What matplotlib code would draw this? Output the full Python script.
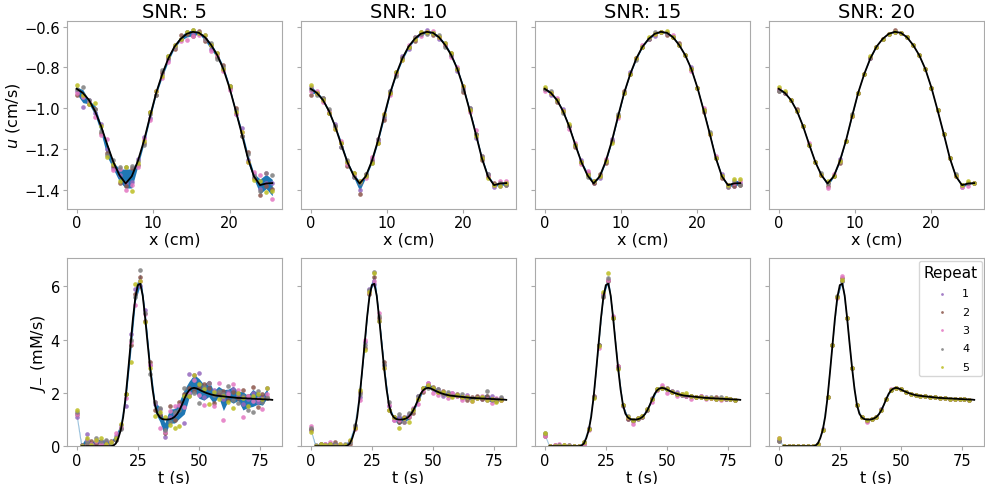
import numpy as np
import matplotlib
matplotlib.use("Agg")
import matplotlib.pyplot as plt

snr_levels = [5, 10, 15, 20]
repeat_labels = ["1", "2", "3", "4", "5"]
repeat_colors = ["#9467bd", "#8c564b", "#e377c2", "#7f7f7f", "#bcbd22"]

# top row: velocity u(x), sampled every 0.8 cm
x_cm = np.round(np.arange(33) * 0.8, 1)
u_line = [-0.905, -0.925, -0.960, -1.015, -1.090, -1.180, -1.265, -1.330, -1.370,
          -1.335, -1.260, -1.160, -1.040, -0.925, -0.832, -0.755, -0.698, -0.660,
          -0.635, -0.625, -0.630, -0.652, -0.690, -0.740, -0.808, -0.900, -1.010,
          -1.125, -1.245, -1.335, -1.378, -1.370, -1.368]

# deviation of each repeat from the line, in 0.01 cm/s
u_dev = {
    5: [[-1, -7, 0, -1, 1, -2, -3, 0, 0, -3, 1, 2, -1, 1, 0, -1, 1, 0, 1, -1, 0, 1, -2, 1, 0, 1, -2, 3, -1, 1, -2, 0, 0],
        [-3, -1, -2, 1, -3, -4, -2, -4, -1, 4, -2, -1, 2, -1, 1, 0, -1, 2, 0, -2, 1, -2, 0, -1, 2, 0, 1, -1, 3, -1, -5, -1, -3],
        [-2, -2, -1, -3, -4, 3, -4, 3, -3, -4, -3, 1, -2, 1, -2, -2, 0, -1, -3, -2, -1, -1, -3, 0, -1, -1, -2, 1, -2, 2, 5, 5, -8],
        [0, 3, 0, 1, -2, -5, 1, 4, 8, 5, 0, -2, 1, -1, 2, 1, 0, 0, 1, 1, 0, -1, 1, -2, 1, 1, 0, -1, 2, 0, -3, 5, 4],
        [2, -1, -2, 4, 0, -6, -1, -3, 8, -7, -1, 0, 2, 1, -1, 1, 1, 0, 1, 1, 0, 1, 0, 1, 0, 1, -1, 1, -2, -2, 2, -4, -4]],
    10: [[1, 0, 0, -1, 1, -1, 0, -1, -3, 0, 1, 0, -1, 1, 0, 1, -1, 0, 0, 1, 0, -1, 1, 0, -1, 0, 1, -2, 0, 1, -1, -1, 0],
         [-3, 0, 1, -1, 0, 1, -2, 1, -5, 1, 0, -1, -2, 0, 1, 0, 0, -1, 1, 0, -1, 0, 0, 1, 0, -2, 0, 0, -1, 0, 1, 0, -1],
         [-1, 1, -1, 0, -1, 2, -1, 0, 1, -1, 2, 1, 1, -1, 0, -1, 1, 1, -1, 0, 1, 0, 0, -1, 1, 1, -1, 2, 1, 0, 0, 1, 1],
         [0, -1, 1, 1, 0, -1, 1, -1, 0, 1, -1, 1, 0, 1, -1, 0, 0, 1, 0, -1, 0, 1, -1, 0, 0, -1, 1, 0, 1, 1, 0, 0, -1],
         [2, 0, 0, -1, -1, 1, 0, 1, 1, 0, -1, -1, 1, 0, 1, -1, 0, 0, 1, 0, 0, 0, 1, 1, 0, 1, 0, -1, 0, -1, 0, -1, 0]],
    15: [[0, -1, 0, 1, 0, 0, 1, 0, 0, -1, 0, 1, 0, 0, 1, 0, 0, 0, -1, 0, 0, 0, 0, 0, 1, 0, 0, 0, 0, 1, 0, -1, 0],
         [0, 0, -1, 0, 0, -1, 0, 1, 0, 1, -1, 0, 0, 1, 0, 0, 0, 0, 0, 0, -1, 0, 1, 0, 0, 0, -1, 0, 0, -1, 0, -1, -1],
         [-1, 0, 1, 0, -1, 1, -1, 2, 1, 0, 1, 0, -1, 0, 0, 0, 1, 0, 0, 0, 0, 1, 0, 0, -1, 0, 1, 0, 1, 0, -1, 0, 1],
         [0, 1, 0, -1, 0, 0, 0, -1, 1, 0, 0, 0, 1, 0, 0, -1, 0, 0, 1, 0, 0, 0, 0, 0, 0, 0, 0, 1, 0, 0, -1, 1, -1],
         [1, 0, 0, 0, 1, 0, 0, 0, 1, 0, 0, -1, 0, 0, 0, 0, 0, 1, 0, 0, 1, 0, 0, 0, 0, 0, 0, 0, 0, 0, 0, 2, 2]],
    20: [[0, 0, 0, 0, 0, 0, 0, 0, 0, 0, 1, 0, 0, 0, 0, 0, 0, 0, 0, 0, 0, 0, 0, 0, 0, 0, 0, 0, 0, 0, -1, 0, 0],
         [-1, 0, 0, 1, 0, 0, 0, 0, -1, 0, -1, 0, 0, 0, 0, 0, 0, 0, 0, 1, 0, 0, 0, 0, 0, 0, 0, 0, 0, 0, 0, 0, 0],
         [0, 0, 0, 0, 0, 1, 0, 0, -2, 1, 0, 0, 0, 0, 0, 0, 0, 0, 0, 0, 0, 0, 0, 0, 0, 0, 0, 0, 0, 0, -1, -1, 0],
         [-1, 0, 0, 0, 0, 0, 0, 1, 0, 0, 0, 0, 1, 0, 0, 0, 0, 0, 0, 0, 0, 0, 0, 0, 0, 0, 0, 0, 0, 1, 0, 0, 0],
         [1, 1, 0, 0, 0, 0, 0, 0, 1, 0, 0, 0, 0, 0, 0, 1, 0, 0, 0, 0, 0, 0, 0, 0, 0, 0, 0, 0, 0, 0, 0, 1, 0]],
}

# bottom row: flux J_-(t); line on a 1 s grid, samples every 2 s
t_line = np.arange(2, 81)
j_line = [0] * 13 + [
    0.02, 0.10, 0.30, 0.60, 1.10, 1.85, 2.80, 3.80, 4.80, 5.60, 6.05, 6.10, 5.65, 4.80,
    3.85, 2.95, 2.15, 1.55, 1.22, 1.08, 1.02, 1.00, 1.00, 1.01, 1.04, 1.10, 1.20, 1.35,
    1.55, 1.77, 1.97, 2.10, 2.17, 2.19, 2.17, 2.13, 2.08, 2.04, 2.00, 1.97, 1.94, 1.92,
    1.90, 1.89, 1.88, 1.87, 1.86, 1.85, 1.84, 1.83, 1.82, 1.81, 1.81, 1.80, 1.80, 1.79,
    1.79, 1.78, 1.78, 1.77, 1.77, 1.76, 1.76, 1.75, 1.75, 1.74]
t_s = np.arange(0, 80, 2)

# deviation of each repeat from the line, in 0.1 mM/s
j_dev = {
    5: [[11, 0, 4.5, 1, 1, 1.5, 2, 0.5, 3, 2, -3.5, 4, 3, -1, 3, 1, 0.5, 3, -6.5, 1, 1, 2, -9, 6, 5, 6, -2, 4, 2, 1, -1, 2, 3, 1, -2, 0, 2, -1, 1, 4.5],
        [12, 0.5, 1, 2, 1, 0.5, 1, 2, 1.5, 1, 1, 0, 1, 2.5, -1, 2, -2, 1, -5, 5, -1, 3, 2, 1, -1, 1, 3, 2, -3, 1, 2, -1, 2, 0, 3, 1, 4.5, -3, 2, 1],
        [12, 0, 2.5, 1, 2, 1, 0.5, 1.5, 4, 1, -0.5, 1, -3, 1, 1.5, 1, 1, -4, -4.5, 3, 4, 2, -3, -1, 3, -2, -5, 4, -4, 5, -9, 1, 5, 3, -7, 1, -1, 0, -3.5, 2],
        [13, 0.5, 1.5, 0.5, 3, 2, 2.5, 1, 1.5, 0.5, 1, 2, 0, 5, 2, -2.5, 1, 3.5, -4, -1, 2, 0, 4, -2, -2, -5, 2, 4, 0, 2, 1, 4, -1, -2, 1, -4.5, -5, 3, -1, 0.5],
        [13.5, 0, 3, 0.5, 2.5, 3, 1, 1.5, 2, 2.5, 1, -6.5, 5, 1, -1.5, 0, -4, 2, 1, -2, -4, -6, 1, -2, 5, 2, 1, -4, 1, -1, 0, -2, -4, 2, 0, -3, 1, 2, 0, 4.5]],
    10: [[6, 0, 0.5, 1, 0.5, 1, 0.5, 0, 1, 1.5, 0, 1, 3, 0, -1, 1, -0.5, -1, 1, 0.5, 1, 0, 1, 1, 2, 0, 1, -1, 0.5, 1, 0, -0.5, 1, 0, 0.5, 0, -0.5, 1, 0, 0.5],
         [6.5, 0, 1, 0.5, 1, 1.5, 0.5, 0.5, 0, 1, 2, -1, 1, 2.5, 0, 2, -2, 0, -1, 1, 0, -1, 0, -0.5, 1, 1, 0, 1, 0, 0.5, 1, 0, -1, 0.5, 1, 0, 1, 0, -0.5, 0],
         [7.5, 0, 0.5, 1, 1.5, 0.5, 1, 0.5, 1, 0.5, -1, 2, 2, 1, 2, 0, 0, -1, 0, -1, 0.5, 1, -2, 0, 2, -1.5, -1, 0, -1, 1, 0, -1, 0.5, -1, 0, 1, 0, -1.5, 0.5, 0],
         [7, 0.5, 1, 0.5, 1, 1, 0, 1, 0.5, 2, 1, 0, 2.5, 4.5, 1, 1, 1, 0, 2, -1, 1.5, 0.5, 1, 1, 0, 0.5, 1, 0, 1, 0, 0.5, 1, 0, 0, 0, 0.5, 3, -0.5, 0, 1],
         [5.5, 0, 1, 0.5, 1, 0, 1, 0.5, 1.5, 1, 2.5, -2, 2, 4, -1, 0, -2, 0, -3, 0.5, -2, 0, 0, 1, 1, 0.5, 0, 0.5, 0, -0.5, 0.5, 0, 0, -1, 0, 0.5, -0.5, 0, -1, 0]],
    15: [[4.5, 0, 0, 0.5, 0, 0, 0, 0, 0.5, 1, 0, 0, 1, 1.5, 0.5, 0, -0.5, -0.5, 0, 0.5, 0, 0.5, 0.5, 0, 0.5, 0, 0, 0.5, 0, 0, 0, 0, 0, 0.5, 0, 0, 0, 0.5, 0, 0],
         [4, 0, 0.5, 0, 0.5, 0, 0, 0, 0, 0.5, 0.5, 0, 0, 1, 0, 0.5, 0, -0.5, -0.5, 0.5, 0, 0, 0, 0.5, 0, 0.5, 0, 0, 0.5, 0, 0, 0, 0.5, 0, 0, 0.5, 0, 0, 0, 0],
         [4, 0, 0.5, 1, 0, 0.5, 0, 0, 0, 0, 0, -1, 1, 1.5, 1, 0.5, 0, 0, -1.5, 0, 0.5, 0, -1, 0, 1, -1.5, 0.5, -1, 0, 0, -1, 0, 0.5, -0.5, 0, 0, -0.5, 0, 0, 0],
         [5, 0, 0, 0.5, 0, 0.5, 0, 0, 0.5, 0.5, 0, 0, 0.5, 2, 0, 0, 0, 0.5, 0, 0, 0.5, 0, 0, 0.5, 0, 0, 0.5, 0, 0, 0.5, 0, 0, 0, 0, 0.5, 0, 0.5, 0, 0, 0],
         [5, 0, 0, 0, 0.5, 0, 0, 0, 0.5, 0.5, -0.5, -0.5, 2, 4, 0, -0.5, 0, 0, 0, 0.5, 0.5, 0.5, 0, 0.5, 0, 0, 0, 0, 0.5, 1, 0, 0, 0, 0, 0, 0, 0, 0.5, 0, 0]],
    20: [[2.5, 0, 0, 0, 0, 0, 0, 0, 0, 0.5, 0, 0, 0, 1, 0, 0, 0, 0, 0, 0, 0, 0.5, 0, 0, 0, 0, 0, 0, 0, 0, 0, 0, 0, 0, 0, 0, 0, 0, 0, 0],
         [2, 0, 0, 0, 0, 0, 0, 0, 0, 0, 0, 0, 0, 2, 0, 0, 0, 0, -0.5, 0, 0, 0, 0, 0, 0, 0, 0, 0, 0, 0, 0, 0, 0, 0, 0, 0, 0, 0, 0, 0],
         [3, 0, 0, 0, 0, 0, 0, 0, 0, 0, 0, 0, -0.5, 3, 0, 0, 0, 0, -1, 0, 0, 0, 0, 0.5, 0, 0, 0, 0, 0, 0, 0, 0, 0, 0, 0, 0, 0, 0, 0, 0],
         [2, 0, 0, 0, 0, 0, 0, 0, 0, 0, 0, 0, 0.5, 1, 0, 0, 0, 0, 0, 0, 0, 0, 0, 0, 0, 0, 0, 0, 0, 0, 0, 0, 0, 0, 0, 0, 0, 0, 0, 0],
         [3, 0, 0, 0, 0, 0, 0, 0, 0, 0, 0, 0, 0, 1.5, 0, 0, 0, 0, 0, 0, 0, 0, 0, 0, 0, 0, 0, 0, 0, 0, 0, 0, 0, 0, 0, 0, 0, 0, 0, 0]],
}

band_color = "#1f77b4"
spine_color = "#aaaaaa"


def draw_panel(ax, x, base, devs, unit, x_line, y_line, zero_start=False):
    vals = np.asarray(base) + np.asarray(devs, dtype=float) * unit
    mean = vals.mean(axis=0)
    half = vals.std(axis=0)
    if zero_start:
        half[0] = 0.0
    # thin mean trace shows through where the band collapses
    ax.plot(x, mean, color=band_color, alpha=0.4, lw=0.8, zorder=1)
    ax.fill_between(x, mean - half, mean + half, color=band_color,
                    lw=0, zorder=1)
    handles = []
    for k in range(len(vals)):
        h = ax.scatter(x, vals[k], s=11, color=repeat_colors[k], alpha=0.85,
                       lw=0, zorder=2, label=repeat_labels[k])
        handles.append(h)
    ax.plot(x_line, y_line, color="black", lw=1.3, zorder=3)
    return handles


fig, axes = plt.subplots(2, 4, figsize=(9.85, 4.85), dpi=100, sharey="row")
fig.subplots_adjust(left=0.068, right=0.999, top=0.955, bottom=0.078,
                    wspace=0.088, hspace=0.266)

j_base = np.concatenate([[0.0], np.asarray(j_line)[0::2][:39]])

for c, snr in enumerate(snr_levels):
    ax = axes[0, c]
    draw_panel(ax, x_cm, u_line, u_dev[snr], 0.01, x_cm, u_line)
    ax.set_title(f"SNR: {snr}", fontsize=14, pad=3)
    ax.set_xlabel("x (cm)", fontsize=11.5, labelpad=1)
    ax.set_ylim(-1.493, -0.571)
    ax.set_xticks([0, 10, 20])

    ax = axes[1, c]
    handles = draw_panel(ax, t_s, j_base, j_dev[snr], 0.1, t_line, j_line,
                         zero_start=True)
    ax.set_xlabel("t (s)", fontsize=11.5, labelpad=1)
    ax.set_ylim(0, 7.05)
    ax.set_xticks([0, 25, 50, 75])

for ax in axes.flat:
    for s in ax.spines.values():
        s.set_color(spine_color)
    ax.tick_params(labelsize=10.5, color=spine_color, length=3, pad=2)

axes[0, 0].set_ylabel("$u$ (cm/s)", fontsize=11.5, labelpad=2)
axes[1, 0].set_ylabel("$J_{-}$ (mM/s)", fontsize=11.5, labelpad=2)
axes[0, 0].set_yticks([-1.4, -1.2, -1.0, -0.8, -0.6])
axes[1, 0].set_yticks([0, 2, 4, 6])

axes[1, 3].legend(handles=handles, title="Repeat", loc="upper right",
                  fontsize=8, title_fontsize=11, scatterpoints=1,
                  markerscale=0.6, borderaxespad=0.2, labelspacing=0.75)

fig.savefig("out.png", dpi=100)
